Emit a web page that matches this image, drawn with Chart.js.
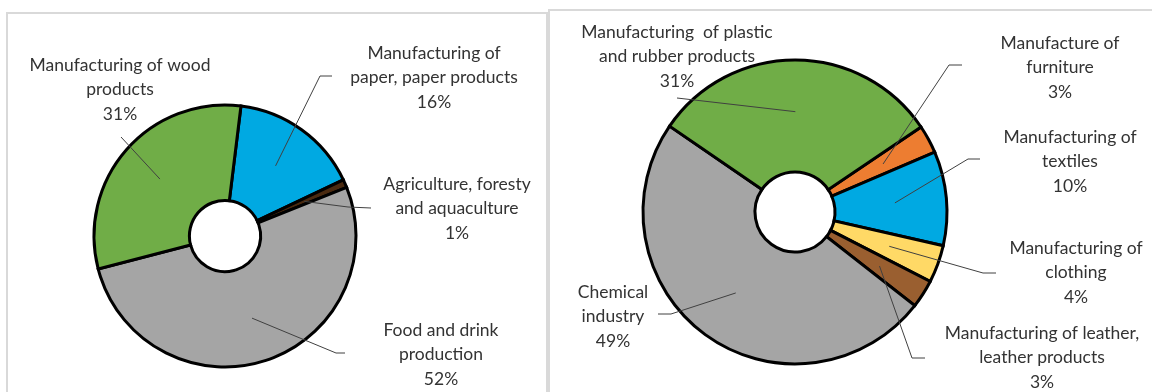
<!DOCTYPE html>
<html>
<head>
<meta charset="utf-8">
<script src="https://cdn.jsdelivr.net/npm/chart.js@4.4.0/dist/chart.umd.min.js"></script>
<style>
body { margin: 0; background: #fff; width: 1152px; height: 392px; overflow: hidden; position: relative; }
.panel { position: absolute; border: 2px solid #d9d9d9; background: #fff; }
#p1 { left: 6px; top: 12px; width: 538px; height: 400px; }
#p2 { left: 548px; top: 9px; width: 620px; height: 400px; }
canvas { position: absolute; left: 0; top: 0; }
</style>
</head>
<body>
<div class="panel" id="p1"><canvas id="chart1" width="538" height="378"></canvas></div>
<div class="panel" id="p2"><canvas id="chart2" width="602" height="381"></canvas></div>
<script>
// left chart
var leftCategories = [
  ['Manufacturing of', 'paper, paper products'],
  ['Agriculture, foresty', 'and aquaculture'],
  ['Food and drink', 'production'],
  ['Manufacturing of wood', 'products']
];
var leftValues = [16, 1, 52, 31];
var leftColors = ['#00A9E2', '#4a2a10', '#A5A5A5', '#70AD47'];

// right chart
var rightCategories = [
  ['Manufacture of', 'furniture'],
  ['Manufacturing of', 'textiles'],
  ['Manufacturing of', 'clothing'],
  ['Manufacturing of leather,', 'leather products'],
  ['Chemical', 'industry'],
  ['Manufacturing  of plastic', 'and rubber products']
];
var rightValues = [3, 10, 4, 3, 49, 31];
var rightColors = ['#ED7D31', '#00A9E2', '#FFD966', '#9A5F30', '#A5A5A5', '#70AD47'];

// label placement, page coordinates: leader points after the slice, and text centre of first line
var leftLayout = [
  { pts: [[320, 76], [332, 76]], text: [434, 53] },
  { pts: [[348, 207], [371, 208]], text: [457, 184] },
  { pts: [[336, 353], [345, 353]], text: [441, 330] },
  { pts: [[121, 137]], text: [120, 65] }
];
var rightLayout = [
  { pts: [[949, 65], [962, 65]], text: [1060, 43] },
  { pts: [[968, 159], [980, 159]], text: [1070, 137] },
  { pts: [[983, 273], [996, 273]], text: [1076, 248] },
  { pts: [[912, 358], [925, 358]], text: [1042, 333] },
  { pts: [[671, 314], [658, 314]], text: [613, 292] },
  { pts: [[677, 98]], text: [677, 32] }
];

var leaderPlugin = {
  id: 'leaders',
  afterDatasetsDraw: function(chart, args, opts) {
    var ctx = chart.ctx;
    var meta = chart.getDatasetMeta(0);
    var values = chart.data.datasets[0].data;
    var ox = opts.origin[0], oy = opts.origin[1];
    ctx.save();
    ctx.strokeStyle = '#404040';
    ctx.fillStyle = '#333333';
    ctx.lineWidth = 1;
    ctx.font = opts.font;
    ctx.textAlign = 'center';
    ctx.textBaseline = 'middle';
    meta.data.forEach(function(arc, i) {
      var p = arc.getProps(['x', 'y', 'startAngle', 'endAngle', 'outerRadius'], true);
      var mid = (p.startAngle + p.endAngle) / 2;
      var r = p.outerRadius * 0.66;
      var lay = opts.layout[i];
      ctx.beginPath();
      ctx.moveTo(p.x + Math.cos(mid) * r, p.y + Math.sin(mid) * r);
      lay.pts.forEach(function(pt) { ctx.lineTo(pt[0] - ox, pt[1] - oy); });
      ctx.stroke();
      var lines = chart.data.labels[i].concat([values[i] + '%']);
      lines.forEach(function(t, k) {
        ctx.fillText(t, lay.text[0] - ox, lay.text[1] - oy + k * 24.5);
      });
    });
    ctx.restore();
  }
};

function makeChart(id, labels, values, colors, rot, radius, cut, pad, layout, origin) {
  return new Chart(document.getElementById(id), {
    type: 'doughnut',
    data: {
      labels: labels,
      datasets: [{
        data: values,
        backgroundColor: colors,
        borderColor: '#000',
        borderWidth: 3,
        borderJoinStyle: 'miter'
      }]
    },
    options: {
      responsive: false,
      animation: false,
      rotation: rot,
      radius: radius,
      cutout: cut,
      layout: { padding: pad },
      plugins: {
        legend: { display: false },
        tooltip: { enabled: false },
        leaders: { layout: layout, origin: origin, font: '17.5px Lato' }
      }
    },
    plugins: [leaderPlugin]
  });
}

makeChart('chart1', leftCategories, leftValues, leftColors, 7, 131, 42,
  { left: 0, right: 104, top: 66, bottom: 0 }, leftLayout, [8, 14]);
makeChart('chart2', rightCategories, rightValues, rightColors, 56, 152, 47,
  { left: 0, right: 112, top: 21, bottom: 0 }, rightLayout, [550, 11]);
</script>
</body>
</html>
